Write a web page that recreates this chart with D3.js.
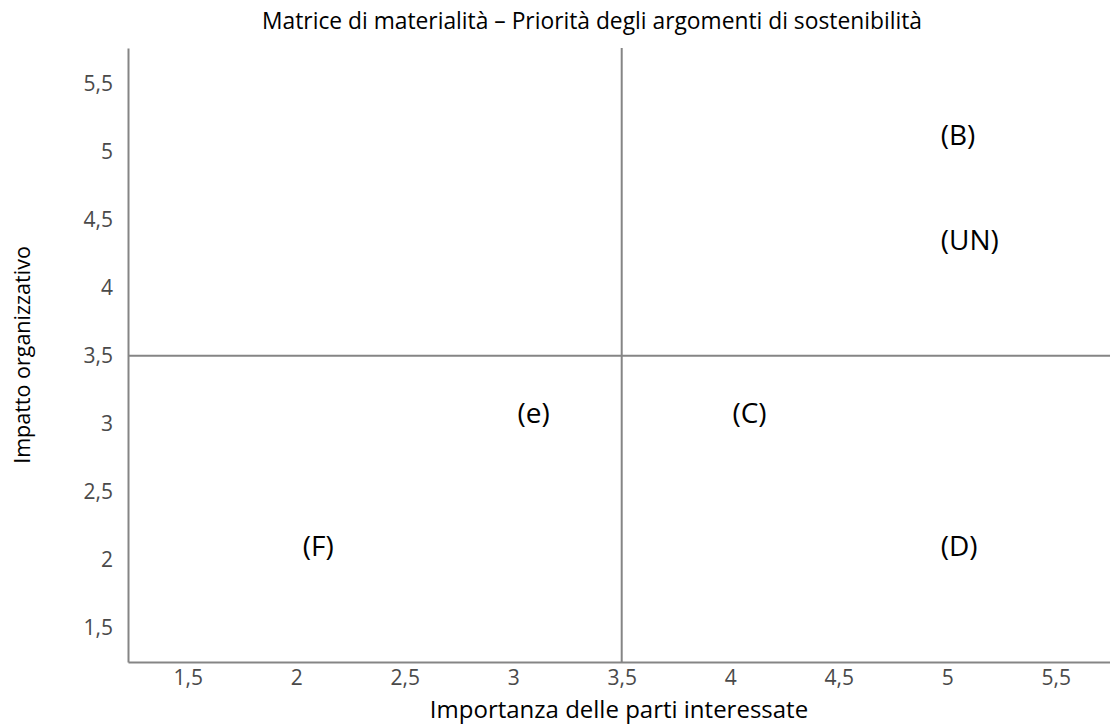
<!DOCTYPE html>
<html>
<head>
<meta charset="utf-8">
<script src="https://cdn.jsdelivr.net/npm/d3@7"></script>
<style>
  body { margin: 0; background: #fff; }
  svg text { font-family: "Open Sans", Lato, sans-serif; }
</style>
</head>
<body>
<svg id="chart" width="1110" height="726"></svg>
<script>
const title = 'Matrice di materialità – Priorità degli argomenti di sostenibilità';
const xTitle = 'Importanza delle parti interessate';
const yTitle = 'Impatto organizzativo';

const labels = ['(B)', '(UN)', '(C)', '(e)', '(D)', '(F)'];
const xValues = [4.97, 4.97, 4.01, 3.02, 4.97, 2.03];
const yValues = [5.12, 4.35, 3.08, 3.08, 2.1, 2.1];

const tickValues = [1.5, 2, 2.5, 3, 3.5, 4, 4.5, 5, 5.5];
const divider = 3.5;

const svg = d3.select('svg#chart');
const margin = { top: 48, right: 0, bottom: 64, left: 128 };
const width = +svg.attr('width') - margin.left - margin.right;
const height = +svg.attr('height') - margin.top - margin.bottom;

const xScale = d3.scaleLinear().domain([1.225, 5.75]).range([0, width]);
const yScale = d3.scaleLinear().domain([1.25, 5.76]).range([height, 0]);
const fmt = d => String(d).replace('.', ',');

const g = svg.append('g').attr('transform', `translate(${margin.left},${margin.top})`);

// axes without tick marks, just labels
const xAxis = g.append('g')
    .attr('transform', `translate(0,${height})`)
    .call(d3.axisBottom(xScale).tickValues(tickValues).tickSize(0).tickPadding(8).tickFormat(fmt));
const yAxis = g.append('g')
    .call(d3.axisLeft(yScale).tickValues(tickValues).tickSize(0).tickPadding(15).tickFormat(fmt));

[xAxis, yAxis].forEach(ax => {
  ax.select('.domain').attr('stroke', '#858585').attr('stroke-width', 2);
  ax.selectAll('text').attr('font-size', 21).attr('fill', '#4a4a4a');
});

// quadrant lines
g.append('line')
    .attr('x1', xScale(divider)).attr('x2', xScale(divider))
    .attr('y1', 0).attr('y2', height)
    .attr('stroke', '#858585').attr('stroke-width', 2);
g.append('line')
    .attr('x1', 0).attr('x2', width)
    .attr('y1', yScale(divider)).attr('y2', yScale(divider))
    .attr('stroke', '#858585').attr('stroke-width', 2);

g.selectAll('text.point')
  .data(labels)
  .enter().append('text')
    .attr('class', 'point')
    .attr('x', (d, i) => xScale(xValues[i]))
    .attr('y', (d, i) => yScale(yValues[i]))
    .attr('dy', '.35em')
    .attr('font-size', 28)
    .attr('fill', '#000')
    .text(d => d);

svg.append('text')
    .attr('x', 592).attr('y', 29)
    .attr('text-anchor', 'middle')
    .attr('font-size', 22.8)
    .attr('fill', '#000')
    .text(title);

svg.append('text')
    .attr('x', margin.left + width / 2).attr('y', 718)
    .attr('text-anchor', 'middle')
    .attr('font-size', 24)
    .attr('fill', '#000')
    .text(xTitle);

svg.append('text')
    .attr('transform', `translate(30,${margin.top + height / 2}) rotate(-90)`)
    .attr('text-anchor', 'middle')
    .attr('font-size', 21.5)
    .attr('fill', '#000')
    .text(yTitle);
</script>
</body>
</html>
